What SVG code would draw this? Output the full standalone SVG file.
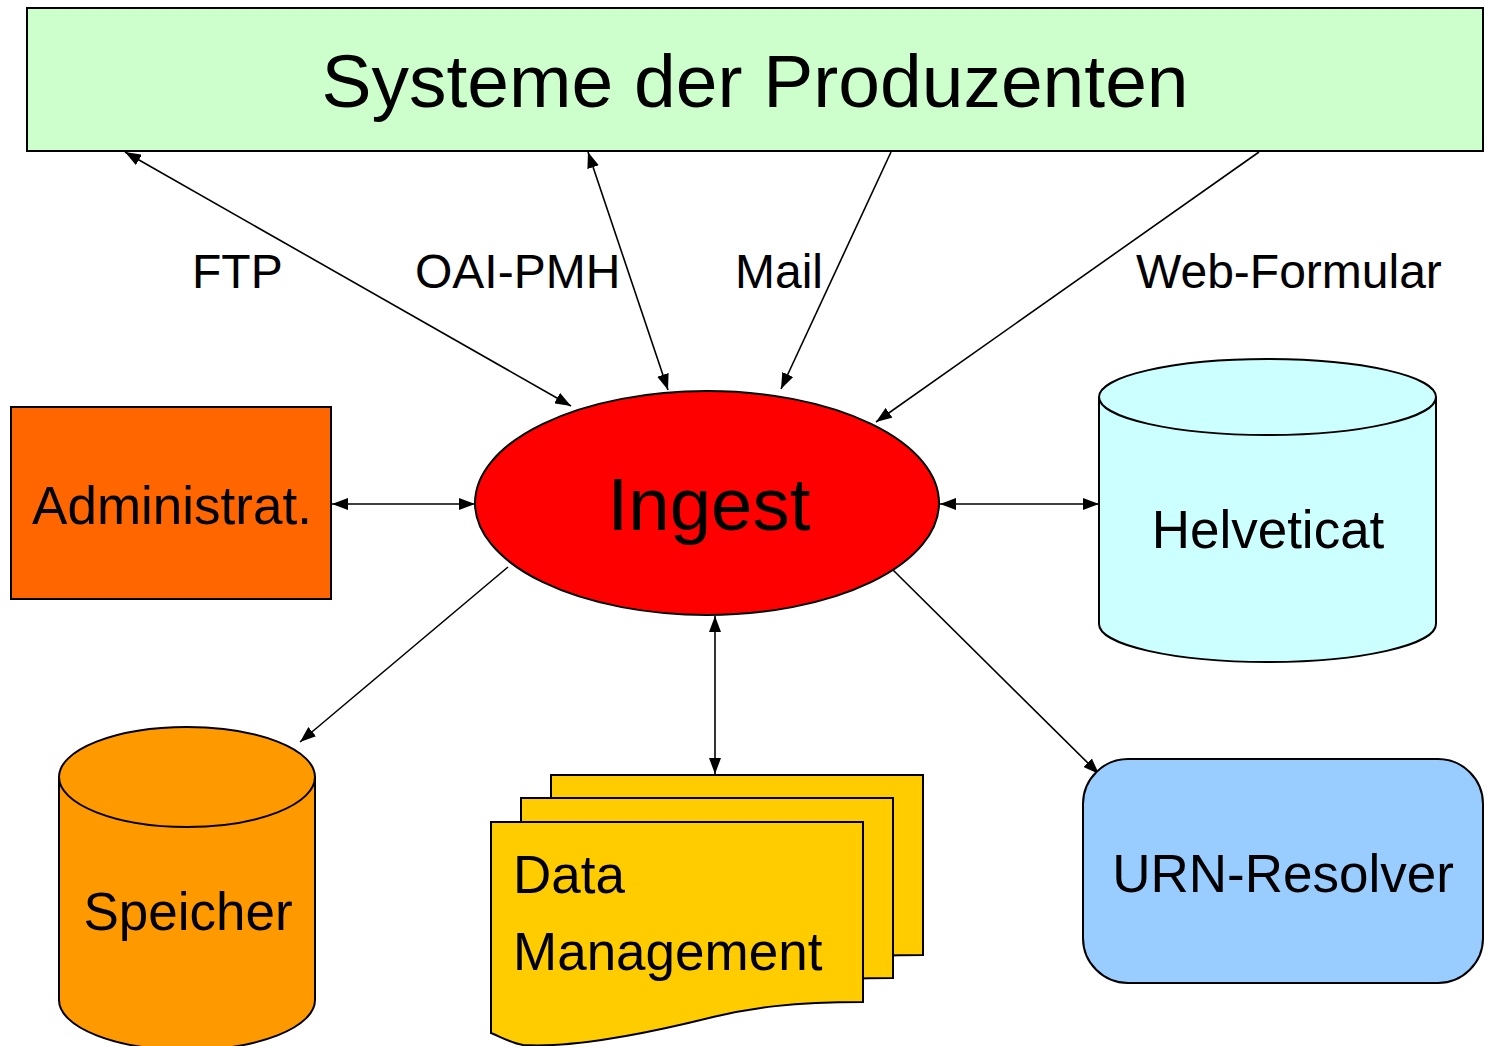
<svg xmlns="http://www.w3.org/2000/svg" width="1485" height="1046" viewBox="0 0 1485 1046">
  <style>
    text { font-family: "Liberation Sans", Arial, sans-serif; fill: #000; }
    .shape { stroke: #000; stroke-width: 2; }
    .conn { stroke: #000; stroke-width: 1.6; fill: none; }
    .lbl { font-size: 48px; }
    .big { font-size: 53px; }
  </style>
  <defs>
    <marker id="arrow" viewBox="0 0 16 12" refX="16" refY="6" markerWidth="16" markerHeight="12" markerUnits="userSpaceOnUse" orient="auto-start-reverse">
      <path d="M0,0 L16,6 L0,12 z" fill="#000"/>
    </marker>
    <!-- document page with wavy lower edge -->
    <path id="doc" d="M0,0 H372 V180 C300,180 260,186 222,195 C150,213 80,226 32,223 C20,221 10,215 0,211 Z"/>
  </defs>
  <rect width="1485" height="1046" fill="#fff"/>

  <g id="produzenten">
    <rect class="shape" x="27" y="8" width="1456" height="143" fill="#CCFFCC"/>
    <text x="755" y="107" font-size="75" text-anchor="middle">Systeme der Produzenten</text>
  </g>

  <g id="connectors">
    <line class="conn" x1="125" y1="152" x2="571" y2="406" marker-start="url(#arrow)" marker-end="url(#arrow)"/>
    <line class="conn" x1="588" y1="152" x2="668" y2="390" marker-start="url(#arrow)" marker-end="url(#arrow)"/>
    <line class="conn" x1="891" y1="152" x2="781" y2="389" marker-end="url(#arrow)"/>
    <line class="conn" x1="1259" y1="152" x2="876" y2="422" marker-end="url(#arrow)"/>
    <line class="conn" x1="332" y1="504" x2="475" y2="504" marker-start="url(#arrow)" marker-end="url(#arrow)"/>
    <line class="conn" x1="940" y1="504" x2="1099" y2="504" marker-start="url(#arrow)" marker-end="url(#arrow)"/>
    <line class="conn" x1="508" y1="567" x2="300" y2="742" marker-end="url(#arrow)"/>
    <line class="conn" x1="715" y1="616" x2="715" y2="774" marker-start="url(#arrow)" marker-end="url(#arrow)"/>
    <line class="conn" x1="892" y1="569" x2="1099" y2="774" marker-end="url(#arrow)"/>
    <text class="lbl" x="192" y="288">FTP</text>
    <text class="lbl" x="415" y="288">OAI-PMH</text>
    <text class="lbl" x="735" y="288">Mail</text>
    <text class="lbl" x="1136" y="288">Web-Formular</text>
  </g>

  <g id="ingest">
    <ellipse class="shape" cx="707" cy="503" rx="232" ry="112" fill="#FF0000"/>
    <text x="709" y="530" font-size="74.5" text-anchor="middle">Ingest</text>
  </g>

  <g id="administrat">
    <rect class="shape" x="11" y="407" width="320" height="192" fill="#FF6600"/>
    <text class="big" x="172" y="524" text-anchor="middle">Administrat.</text>
  </g>

  <g id="helveticat">
    <path class="shape" fill="#CCFFFF" d="M1099,397 A168.5,38 0 0 1 1436,397 V624 A168.5,38 0 0 1 1099,624 Z"/>
    <path class="shape" fill="none" d="M1099,397 A168.5,38 0 0 0 1436,397"/>
    <text class="big" x="1268" y="548" text-anchor="middle">Helveticat</text>
  </g>

  <g id="speicher">
    <path class="shape" fill="#FF9900" d="M59,777 A128,50 0 0 1 315,777 V1000 A128,50 0 0 1 59,1000 Z"/>
    <path class="shape" fill="none" d="M59,777 A128,50 0 0 0 315,777"/>
    <text class="big" x="188" y="930" text-anchor="middle">Speicher</text>
  </g>

  <g id="data-management">
    <use href="#doc" class="shape" fill="#FFCC00" transform="translate(551,775)"/>
    <use href="#doc" class="shape" fill="#FFCC00" transform="translate(521,798)"/>
    <use href="#doc" class="shape" fill="#FFCC00" transform="translate(491,822)"/>
    <text class="big" x="513" y="893">Data</text>
    <text class="big" x="513" y="970">Management</text>
  </g>

  <g id="urn-resolver">
    <rect class="shape" x="1083" y="759" width="400" height="224" rx="45" ry="45" fill="#99CCFF"/>
    <text class="big" x="1283" y="892" text-anchor="middle">URN-Resolver</text>
  </g>
</svg>
